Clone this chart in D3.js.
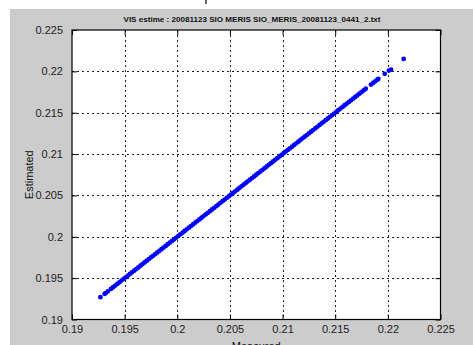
<!DOCTYPE html>
<html><head><meta charset="utf-8">
<script src="https://cdn.jsdelivr.net/npm/d3@7"></script>
<style>body{margin:0;background:#fff}svg{display:block}text{font-family:"Liberation Sans",Arial,sans-serif}</style>
</head><body>
<script>
const titleText = "VIS estime :  20081123 SIO MERIS SIO_MERIS_20081123_0441_2.txt";
const xLabel = "Measured";
const yLabel = "Estimated";
const xTicks = [0.19,0.195,0.2,0.205,0.21,0.215,0.22,0.225];
const yTicks = [0.19,0.195,0.2,0.205,0.21,0.215,0.22,0.225];
const xTickLabels = ["0.19","0.195","0.2","0.205","0.21","0.215","0.22","0.225"];
const yTickLabels = ["0.19","0.195","0.2","0.205","0.21","0.215","0.22","0.225"];
const measured = [0.1927,0.1931,0.1932,0.1934,
0.1937,0.1939,0.1941,0.1943,0.1945,0.1947,0.1949,0.1951,0.1953,0.1955,0.1957,0.1959,
0.1961,0.1963,0.1965,0.1967,0.1969,0.1971,0.1973,0.1975,0.1977,0.1979,
0.1981,0.1983,0.1985,0.1987,0.1989,0.1991,0.1993,0.1995,0.1997,0.1999,
0.2001,0.2003,0.2005,0.2007,0.2009,0.2011,0.2013,0.2015,0.2017,0.2019,
0.2021,0.2023,0.2025,0.2027,0.2029,0.2031,0.2033,0.2035,0.2037,0.2039,
0.2041,0.2043,0.2045,0.2047,0.2049,0.2051,0.2053,0.2055,0.2057,0.2059,
0.2061,0.2063,0.2065,0.2067,0.2069,0.2071,0.2073,0.2075,0.2077,0.2079,
0.2081,0.2083,0.2085,0.2087,0.2089,0.2091,0.2093,0.2095,0.2097,0.2099,
0.2101,0.2103,0.2105,0.2107,0.2109,0.2111,0.2113,0.2115,0.2117,0.2119,
0.2121,0.2123,0.2125,0.2127,0.2129,0.2131,0.2133,0.2135,0.2137,0.2139,
0.2141,0.2143,0.2145,0.2147,0.2149,0.2151,0.2153,0.2155,0.2157,0.2159,
0.2161,0.2163,0.2165,0.2167,0.2169,0.2171,0.2173,0.2175,0.2177,0.2179,
0.2184,0.2186,0.2188,0.2190,0.2191,0.2197,0.2201,0.2203,0.2215];
const estimated = [0.1927,0.1931,0.1932,0.1934,
0.1937,0.1939,0.1941,0.1943,0.1945,0.1947,0.1949,0.1951,0.1953,0.1955,0.1957,0.1959,
0.1961,0.1963,0.1965,0.1967,0.1969,0.1971,0.1973,0.1975,0.1977,0.1979,
0.1981,0.1983,0.1985,0.1987,0.1989,0.1991,0.1993,0.1995,0.1997,0.1999,
0.2001,0.2003,0.2005,0.2007,0.2009,0.2011,0.2013,0.2015,0.2017,0.2019,
0.2021,0.2023,0.2025,0.2027,0.2029,0.2031,0.2033,0.2035,0.2037,0.2039,
0.2041,0.2043,0.2045,0.2047,0.2049,0.2051,0.2053,0.2055,0.2057,0.2059,
0.2061,0.2063,0.2065,0.2067,0.2069,0.2071,0.2073,0.2075,0.2077,0.2079,
0.2081,0.2083,0.2085,0.2087,0.2089,0.2091,0.2093,0.2095,0.2097,0.2099,
0.2101,0.2103,0.2105,0.2107,0.2109,0.2111,0.2113,0.2115,0.2117,0.2119,
0.2121,0.2123,0.2125,0.2127,0.2129,0.2131,0.2133,0.2135,0.2137,0.2139,
0.2141,0.2143,0.2145,0.2147,0.2149,0.2151,0.2153,0.2155,0.2157,0.2159,
0.2161,0.2163,0.2165,0.2167,0.2169,0.2171,0.2173,0.2175,0.2177,0.2179,
0.2184,0.2186,0.2188,0.2190,0.2191,0.2197,0.2201,0.2202,0.2215];

const W = 473, H = 345;
const L = 72, R = 440.5, T = 30, B = 319.5;
const svg = d3.select("body").append("svg").attr("width", W).attr("height", H);
svg.append("rect").attr("x", 10).attr("y", 9).attr("width", W - 10).attr("height", H - 9).attr("fill", "#cccccc");
svg.append("line").attr("x1", 206).attr("x2", 206).attr("y1", 0).attr("y2", 4).attr("stroke", "#333").attr("stroke-width", 1.5);

const x = d3.scaleLinear().domain([0.19, 0.225]).range([L, R]);
const y = d3.scaleLinear().domain([0.19, 0.225]).range([B, T]);

svg.append("rect").attr("x", L).attr("y", T).attr("width", R - L).attr("height", B - T).attr("fill", "#fff");

// grid
const g = svg.append("g");
g.selectAll(".gx").data(xTicks.slice(1, -1)).enter().append("line")
  .attr("x1", d => Math.round(x(d)) + 0.5).attr("x2", d => Math.round(x(d)) + 0.5)
  .attr("y1", T).attr("y2", B).attr("stroke", "#222").attr("stroke-dasharray", "2,3");
g.selectAll(".gy").data(yTicks.slice(1, -1)).enter().append("line")
  .attr("y1", d => Math.round(y(d)) + 0.5).attr("y2", d => Math.round(y(d)) + 0.5)
  .attr("x1", L).attr("x2", R).attr("stroke", "#222").attr("stroke-dasharray", "2,3");

// points
svg.append("g").selectAll("circle").data(measured.map((m, i) => [m, estimated[i]])).enter()
  .append("circle").attr("cx", d => x(d[0])).attr("cy", d => y(d[1])).attr("r", 2.4).attr("fill", "#0000ff");

// axes (ticks inside)
const fmt = (arr, ticks) => (d => arr[ticks.indexOf(d)]);
const ax = svg.append("g").attr("transform", `translate(0,${B})`)
  .call(d3.axisBottom(x).tickValues(xTicks).tickFormat(fmt(xTickLabels, xTicks)).tickSizeInner(-5).tickSizeOuter(0).tickPadding(9));
const ay = svg.append("g").attr("transform", `translate(${L},0)`)
  .call(d3.axisLeft(y).tickValues(yTicks).tickFormat(fmt(yTickLabels, yTicks)).tickSizeInner(-5).tickSizeOuter(0).tickPadding(9));
svg.append("g").attr("transform", `translate(0,${T})`)
  .call(d3.axisTop(x).tickValues(xTicks).tickFormat("").tickSizeInner(-5).tickSizeOuter(0));
svg.append("g").attr("transform", `translate(${R},0)`)
  .call(d3.axisRight(y).tickValues(yTicks).tickFormat("").tickSizeInner(-5).tickSizeOuter(0));
svg.selectAll(".domain").remove();
svg.selectAll(".tick line").attr("stroke", "#000");
svg.selectAll(".tick text").attr("font-size", 11).attr("fill", "#222").attr("font-family", '"Liberation Sans",Arial,sans-serif');
ax.selectAll(".tick text").attr("dy", "0.71em").attr("y", 6);
svg.append("rect").attr("x", L).attr("y", T).attr("width", R - L).attr("height", B - T)
  .attr("fill", "none").attr("stroke", "#000").attr("stroke-width", 1.2);

svg.append("text").attr("x", 252).attr("y", 22).attr("text-anchor", "middle")
  .attr("font-size", 8).attr("font-weight", "bold").attr("fill", "#111")
  .attr("textLength", 257).attr("lengthAdjust", "spacingAndGlyphs").text(titleText);
svg.append("text").attr("x", (L + R) / 2).attr("y", 350).attr("text-anchor", "middle")
  .attr("font-size", 11).attr("fill", "#111").text(xLabel);
svg.append("text").attr("transform", `translate(33,${(T + B) / 2}) rotate(-90)`).attr("text-anchor", "middle")
  .attr("font-size", 11).attr("fill", "#111").text(yLabel);
</script>
</body></html>
